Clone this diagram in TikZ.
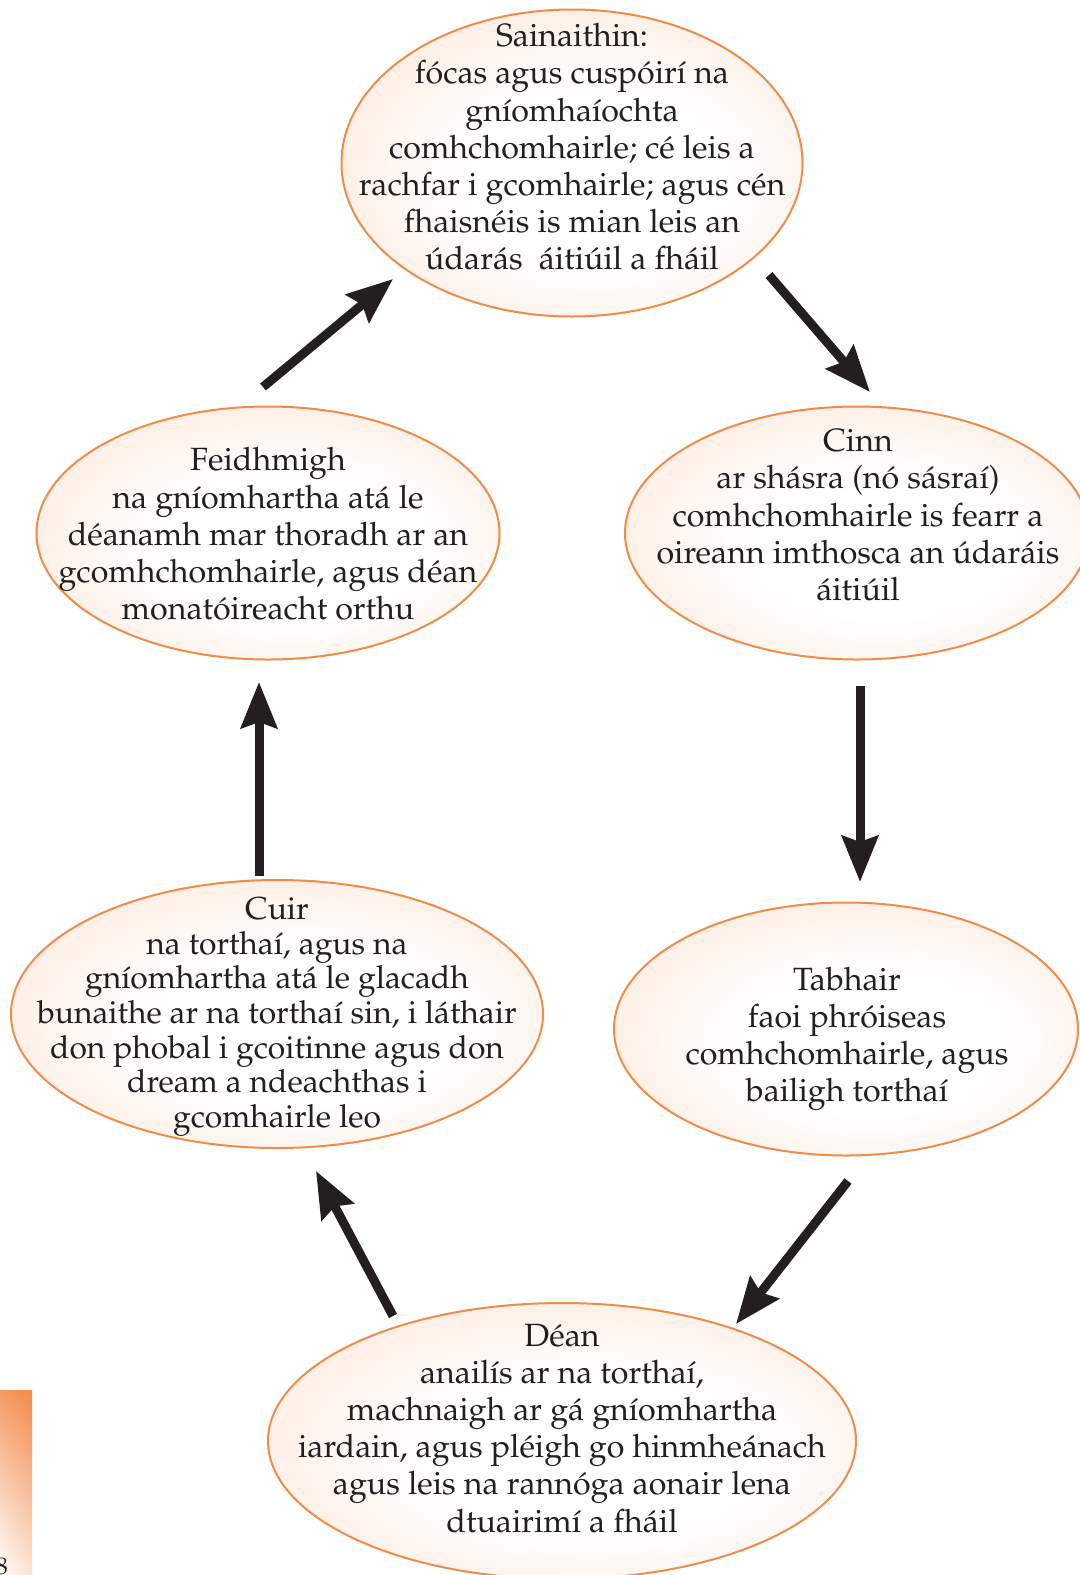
\documentclass[tikz,border=0pt]{standalone}
\usepackage[T1]{fontenc}
\renewcommand\rmdefault{ppl}
\usetikzlibrary{arrows.meta,shapes.geometric,shadings}
\definecolor{edge}{HTML}{F08C4A}
\definecolor{peach}{HTML}{FBD6BD}
\definecolor{ink}{HTML}{231F20}
\definecolor{barorange}{HTML}{F38A4A}
\pgfdeclareradialshading{ellshade}{\pgfpoint{4bp}{-4bp}}{color(0bp)=(white); color(14bp)=(white); color(50bp)=(peach)}
\begin{document}
\begin{tikzpicture}[x=0.5pt,y=-0.5pt,
  font=\fontsize{16.1}{18.6}\selectfont, text=ink,
  ell/.style={ellipse, draw=edge, line width=1pt, shade, shading=ellshade, inner sep=0pt},
  txt/.style={align=center, inner sep=0pt},
  flow/.style={draw=ink, line width=4.5pt, -{Stealth[length=23pt,width=18pt,inset=3pt]}}]
\useasboundingbox (0,0) rectangle (1080,1575);

% ellipses
\node[ell, minimum width=230.5pt, minimum height=153.5pt] (top) at (572,163) {};
\node[ell, minimum width=232pt, minimum height=126.5pt] (cinn) at (857,533) {};
\node[ell, minimum width=231.5pt, minimum height=126.5pt] (feid) at (268,533) {};
\node[ell, minimum width=232pt, minimum height=126.5pt] (tabh) at (846,1029) {};
\node[ell, minimum width=266pt, minimum height=134pt] (cuir) at (277,1014) {};
\node[ell, minimum width=294pt, minimum height=138pt] (dean) at (562,1441) {};

% texts
\node[txt] (ttop) at (572,147) {Sainaithin:\\f\'ocas agus cusp\'oir\'{\i} na\\gn\'{\i}omha\'{\i}ochta\\comhchomhairle; c\'e leis a\\rachfar i gcomhairle; agus c\'en\\fhaisn\'eis is mian leis an\\\'udar\'as\ \ \'aiti\'uil a fh\'ail};
\node[txt] (tcinn) at (858,515) {Cinn\\ar sh\'asra (n\'o s\'asra\'{\i})\\comhchomhairle is fearr a\\oireann imthosca an \'udar\'ais\\\'aiti\'uil};
\node[txt] (tfeid) at (268,534) {Feidhmigh\\na gn\'{\i}omhartha at\'a le\\d\'eanamh mar thoradh ar an\\gcomhchomhairle, agus d\'ean\\monat\'oireacht orthu};
\node[txt] (ttabh) at (847,1039) {Tabhair\\faoi phr\'oiseas\\comhchomhairle, agus\\bailigh tortha\'{\i}};
\node[txt, font=\fontsize{15.9}{17.3}\selectfont] (tcuir) at (277,1017) {Cuir\\na tortha\'{\i}, agus na\\gn\'{\i}omhartha at\'a le glacadh\\bunaithe ar na tortha\'{\i} sin, i l\'athair\\don phobal i gcoitinne agus don\\dream a ndeachthas i\\gcomhairle leo};
\node[txt] (tdean) at (562,1428) {D\'ean\\anail\'{\i}s ar na tortha\'{\i},\\machnaigh ar g\'a gn\'{\i}omhartha\\iardain, agus pl\'eigh go hinmhe\'anach\\agus leis na rann\'oga aonair lena\\dtuairim\'{\i} a fh\'ail};

% arrow end points
\coordinate (a1s) at (263,387); \coordinate (a1e) at (393,279);
\coordinate (a2s) at (769,275); \coordinate (a2e) at (870,392);
\coordinate (a3s) at (860,686); \coordinate (a3e) at (860,882);
\coordinate (a4s) at (848,1181); \coordinate (a4e) at (736,1324);
\coordinate (a5s) at (393,1316); \coordinate (a5e) at (316,1171);
\coordinate (a6s) at (259,876); \coordinate (a6e) at (259,682);

\draw[flow] (a1s) -- (a1e);
\draw[flow] (a2s) -- (a2e);
\draw[flow] (a3s) -- (a3e);
\draw[flow] (a4s) -- (a4e);
\draw[flow] (a5s) -- (a5e);
\draw[flow] (a6s) -- (a6e);

% page corner bar
\shade[upper right=barorange, upper left=barorange!85, lower right=barorange!25, lower left=white] (0,1390) rectangle (32,1575);
\node[inner sep=0pt, font=\fontsize{12}{14}\selectfont] (pnum) at (2,1566) {8};
\end{tikzpicture}
\end{document}
